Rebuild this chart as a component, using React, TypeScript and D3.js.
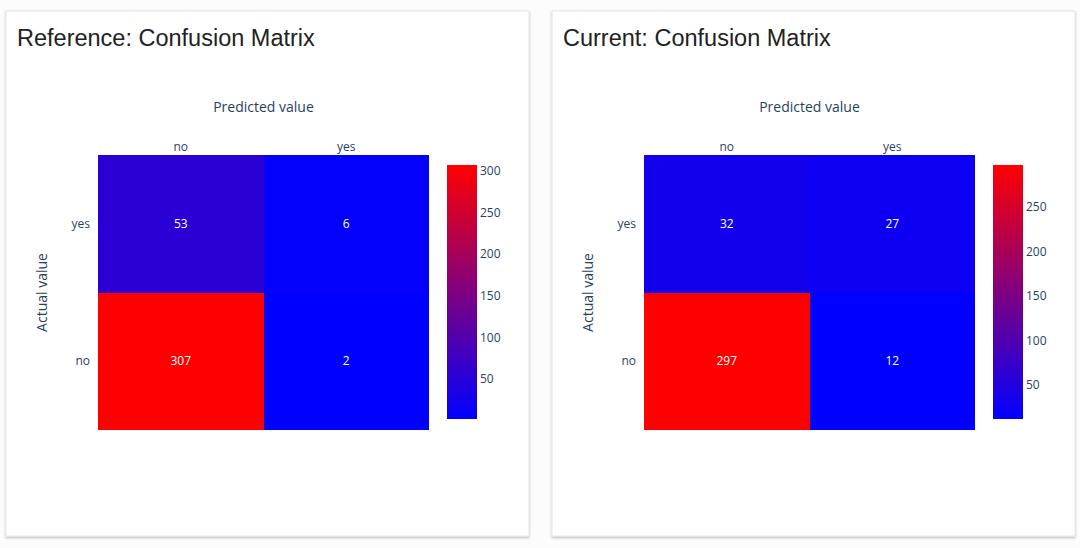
import React from "react";
import * as d3 from "d3";

const categories = ["no", "yes"];
const actualOrder = ["yes", "no"];
const referenceValues = [
  { actual: "yes", predicted: "no", value: 53 },
  { actual: "yes", predicted: "yes", value: 6 },
  { actual: "no", predicted: "no", value: 307 },
  { actual: "no", predicted: "yes", value: 2 },
];
const currentValues = [
  { actual: "yes", predicted: "no", value: 32 },
  { actual: "yes", predicted: "yes", value: 27 },
  { actual: "no", predicted: "no", value: 297 },
  { actual: "no", predicted: "yes", value: 12 },
];
const referenceTicks = [50, 100, 150, 200, 250, 300];
const currentTicks = [50, 100, 150, 200, 250];
const panels = [
  { title: "Reference: Confusion Matrix", data: referenceValues, ticks: referenceTicks },
  { title: "Current: Confusion Matrix", data: currentValues, ticks: currentTicks },
];

const FONT = "'Open Sans', 'Noto Sans', sans-serif";
const AXIS = "#2a3f5f";

function Panel({ p, ox, idx }: { p: any; ox: number; idx: number }) {
  const cardX = ox;
  const cardW = 523;
  const hx0 = ox + 92;
  const hx1 = ox + 423;
  const hy0 = 155;
  const hy1 = 430;
  const x = d3.scaleBand().domain(categories).range([hx0, hx1]);
  const y = d3.scaleBand().domain(actualOrder).range([hy0, hy1]);
  const vals = p.data.map((d: any) => d.value);
  const vmin = d3.min(vals) as number;
  const vmax = d3.max(vals) as number;
  const color = d3.scaleLinear<string>().domain([vmin, vmax]).range(["#0000ff", "#ff0000"]).interpolate(d3.interpolateRgb);
  const cbX = ox + 441;
  const cbW = 30;
  const cbTop = 165;
  const cbBot = 419;
  const cy = d3.scaleLinear().domain([vmin, vmax]).range([cbBot, cbTop]);
  const gid = `grad${idx}`;
  return (
    <g>
      <rect x={cardX} y={11} width={cardW} height={525} fill="#fff" stroke="#e6e6e6" strokeWidth={1} filter="url(#shadow)" />
      <text x={ox + 11} y={46} fontFamily="'Liberation Sans', Arial, sans-serif" fontSize={23.5} fill="#222">{p.title}</text>
      <text x={(hx0 + hx1) / 2} y={112} textAnchor="middle" fontFamily={FONT} fontSize={14} fill={AXIS}>Predicted value</text>
      {categories.map((c) => (
        <text key={c} x={(x(c) as number) + x.bandwidth() / 2} y={151} textAnchor="middle" fontFamily={FONT} fontSize={12} fill={AXIS}>{c}</text>
      ))}
      {actualOrder.map((c) => (
        <text key={c} x={hx0 - 8} y={(y(c) as number) + y.bandwidth() / 2} dy="0.35em" textAnchor="end" fontFamily={FONT} fontSize={12} fill={AXIS}>{c}</text>
      ))}
      <text transform={`translate(${ox + 36},${(hy0 + hy1) / 2}) rotate(-90)`} dy="0.35em" textAnchor="middle" fontFamily={FONT} fontSize={14} fill={AXIS}>Actual value</text>
      {p.data.map((d: any, i: number) => (
        <rect key={i} x={x(d.predicted)} y={y(d.actual)} width={x.bandwidth()} height={y.bandwidth()} fill={color(d.value)} shapeRendering="crispEdges" />
      ))}
      {p.data.map((d: any, i: number) => (
        <text key={"t" + i} x={(x(d.predicted) as number) + x.bandwidth() / 2} y={(y(d.actual) as number) + y.bandwidth() / 2} dy="0.35em" textAnchor="middle" fontFamily={FONT} fontSize={12} fill="#fff">{d.value}</text>
      ))}
      <defs>
        <linearGradient id={gid} x1="0" y1="1" x2="0" y2="0">
          <stop offset="0" stopColor="#0000ff" />
          <stop offset="1" stopColor="#ff0000" />
        </linearGradient>
      </defs>
      <rect x={cbX} y={cbTop} width={cbW} height={cbBot - cbTop} fill={`url(#${gid})`} />
      {p.ticks.map((t: number) => (
        <text key={t} x={cbX + cbW + 3} y={cy(t)} dy="0.35em" fontFamily={FONT} fontSize={12} fill={AXIS}>{t}</text>
      ))}
    </g>
  );
}

export default function App() {
  return (
    <div style={{ position: "absolute", left: 0, top: 0 }}>
      <svg width={1080} height={548} style={{ display: "block", background: "#fcfcfc" }}>
        <defs>
          <filter id="shadow" x="-5%" y="-5%" width="110%" height="110%">
            <feDropShadow dx="0" dy="1.5" stdDeviation="1" floodColor="#000" floodOpacity="0.25" />
          </filter>
        </defs>
        {panels.map((p, i) => (
          <Panel key={i} p={p} ox={i === 0 ? 6 : 552} idx={i} />
        ))}
      </svg>
    </div>
  );
}
